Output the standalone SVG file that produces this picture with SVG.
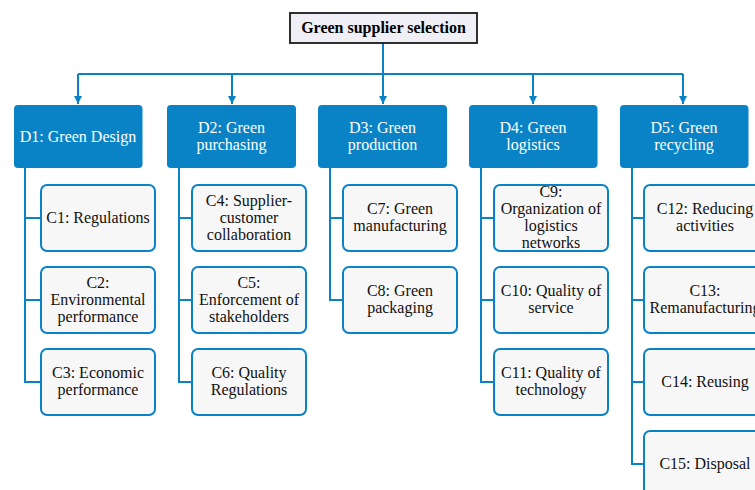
<svg xmlns="http://www.w3.org/2000/svg" width="755" height="490" viewBox="0 0 755 490">
<style>
.title{fill:#EFEFF5;stroke:#1a1a1a;stroke-width:1.8}
.d{fill:#0A83C6;stroke:none}
.c{fill:#F7F7F7;stroke:#0A83C6;stroke-width:2}
text{font-family:'Liberation Serif','Times New Roman',serif;font-size:16px;text-anchor:middle}
.tt{font-weight:bold;fill:#000}
.dt{fill:#fff}
.ct{fill:#111}
.ln{fill:none;stroke:#0A83C6;stroke-width:2}
</style>
<defs>
<marker id="arr" markerWidth="10" markerHeight="10" refX="8" refY="4" orient="auto" markerUnits="userSpaceOnUse">
<path d="M0,0 L8,4 L0,8 Z" fill="#0A83C6"/>
</marker>
</defs>
<rect width="755" height="490" fill="#fff"/>
<g id="connectors">
<path class="ln" d="M383,43 V74"/>
<path class="ln" d="M78,74 H683"/>
<path class="ln" d="M78,74 V104" marker-end="url(#arr)"/>
<path class="ln" d="M232,74 V104" marker-end="url(#arr)"/>
<path class="ln" d="M383,74 V104" marker-end="url(#arr)"/>
<path class="ln" d="M533,74 V104" marker-end="url(#arr)"/>
<path class="ln" d="M683,74 V104" marker-end="url(#arr)"/>
<path class="ln" d="M25,168 V382 H41 M25,218 H41 M25,300 H41"/>
<path class="ln" d="M179,168 V382 H192 M179,218 H192 M179,300 H192"/>
<path class="ln" d="M330,168 V300 H343 M330,218 H343"/>
<path class="ln" d="M481,168 V382 H494 M481,218 H494 M481,300 H494"/>
<path class="ln" d="M632,168 V464 H644 M632,218 H644 M632,300 H644 M632,382 H644"/>
</g>
<g id="root">
<rect class="title" x="290" y="13" width="187" height="30"/>
<text class="tt" x="383.5" y="33">Green supplier selection</text>
</g>
<g id="D1"><rect class="d" x="14" y="105" width="128.5" height="63" rx="4"/><text class="dt" x="78" y="142">D1: Green Design</text></g>
<g id="D2"><rect class="d" x="167" y="105" width="129" height="63" rx="4"/><text class="dt" x="231.5" y="133">D2: Green</text><text class="dt" x="231.5" y="150">purchasing</text></g>
<g id="D3"><rect class="d" x="318" y="105" width="129" height="63" rx="4"/><text class="dt" x="382.5" y="133">D3: Green</text><text class="dt" x="382.5" y="150">production</text></g>
<g id="D4"><rect class="d" x="469" y="105" width="128.5" height="63" rx="4"/><text class="dt" x="533" y="133">D4: Green</text><text class="dt" x="533" y="150">logistics</text></g>
<g id="D5"><rect class="d" x="620" y="105" width="128.5" height="63" rx="4"/><text class="dt" x="684" y="133">D5: Green</text><text class="dt" x="684" y="150">recycling</text></g>

<g id="C1"><rect class="c" x="41" y="185" width="114" height="66" rx="6"/><text class="ct" x="98" y="222.5">C1: Regulations</text></g>
<g id="C2"><rect class="c" x="41" y="267" width="114" height="66" rx="6"/><text class="ct" x="98" y="287.5">C2:</text><text class="ct" x="98" y="304.5">Environmental</text><text class="ct" x="98" y="321.5">performance</text></g>
<g id="C3"><rect class="c" x="41" y="349" width="114" height="66" rx="6"/><text class="ct" x="98" y="378">C3: Economic</text><text class="ct" x="98" y="395">performance</text></g>

<g id="C4"><rect class="c" x="192" y="185" width="114" height="66" rx="6"/><text class="ct" x="249" y="205.5">C4: Supplier-</text><text class="ct" x="249" y="222.5">customer</text><text class="ct" x="249" y="239.5">collaboration</text></g>
<g id="C5"><rect class="c" x="192" y="267" width="114" height="66" rx="6"/><text class="ct" x="249" y="287.5">C5:</text><text class="ct" x="249" y="304.5">Enforcement of</text><text class="ct" x="249" y="321.5">stakeholders</text></g>
<g id="C6"><rect class="c" x="192" y="349" width="114" height="66" rx="6"/><text class="ct" x="249" y="378">C6: Quality</text><text class="ct" x="249" y="395">Regulations</text></g>

<g id="C7"><rect class="c" x="343" y="185" width="114" height="66" rx="6"/><text class="ct" x="400" y="214">C7: Green</text><text class="ct" x="400" y="231">manufacturing</text></g>
<g id="C8"><rect class="c" x="343" y="267" width="114" height="66" rx="6"/><text class="ct" x="400" y="296">C8: Green</text><text class="ct" x="400" y="313">packaging</text></g>

<g id="C9"><rect class="c" x="494" y="185" width="114" height="66" rx="6"/><text class="ct" x="551" y="197">C9:</text><text class="ct" x="551" y="214">Organization of</text><text class="ct" x="551" y="231">logistics</text><text class="ct" x="551" y="248">networks</text></g>
<g id="C10"><rect class="c" x="494" y="267" width="114" height="66" rx="6"/><text class="ct" x="551" y="296">C10: Quality of</text><text class="ct" x="551" y="313">service</text></g>
<g id="C11"><rect class="c" x="494" y="349" width="114" height="66" rx="6"/><text class="ct" x="551" y="378">C11: Quality of</text><text class="ct" x="551" y="395">technology</text></g>

<g id="C12"><rect class="c" x="644" y="185" width="122" height="66" rx="6"/><text class="ct" x="705" y="214">C12: Reducing</text><text class="ct" x="705" y="231">activities</text></g>
<g id="C13"><rect class="c" x="644" y="267" width="122" height="66" rx="6"/><text class="ct" x="705" y="296">C13:</text><text class="ct" x="705" y="313">Remanufacturing</text></g>
<g id="C14"><rect class="c" x="644" y="349" width="122" height="66" rx="6"/><text class="ct" x="705" y="386.5">C14: Reusing</text></g>
<g id="C15"><rect class="c" x="644" y="431" width="122" height="66" rx="6"/><text class="ct" x="705" y="468.5">C15: Disposal</text></g>
</svg>
